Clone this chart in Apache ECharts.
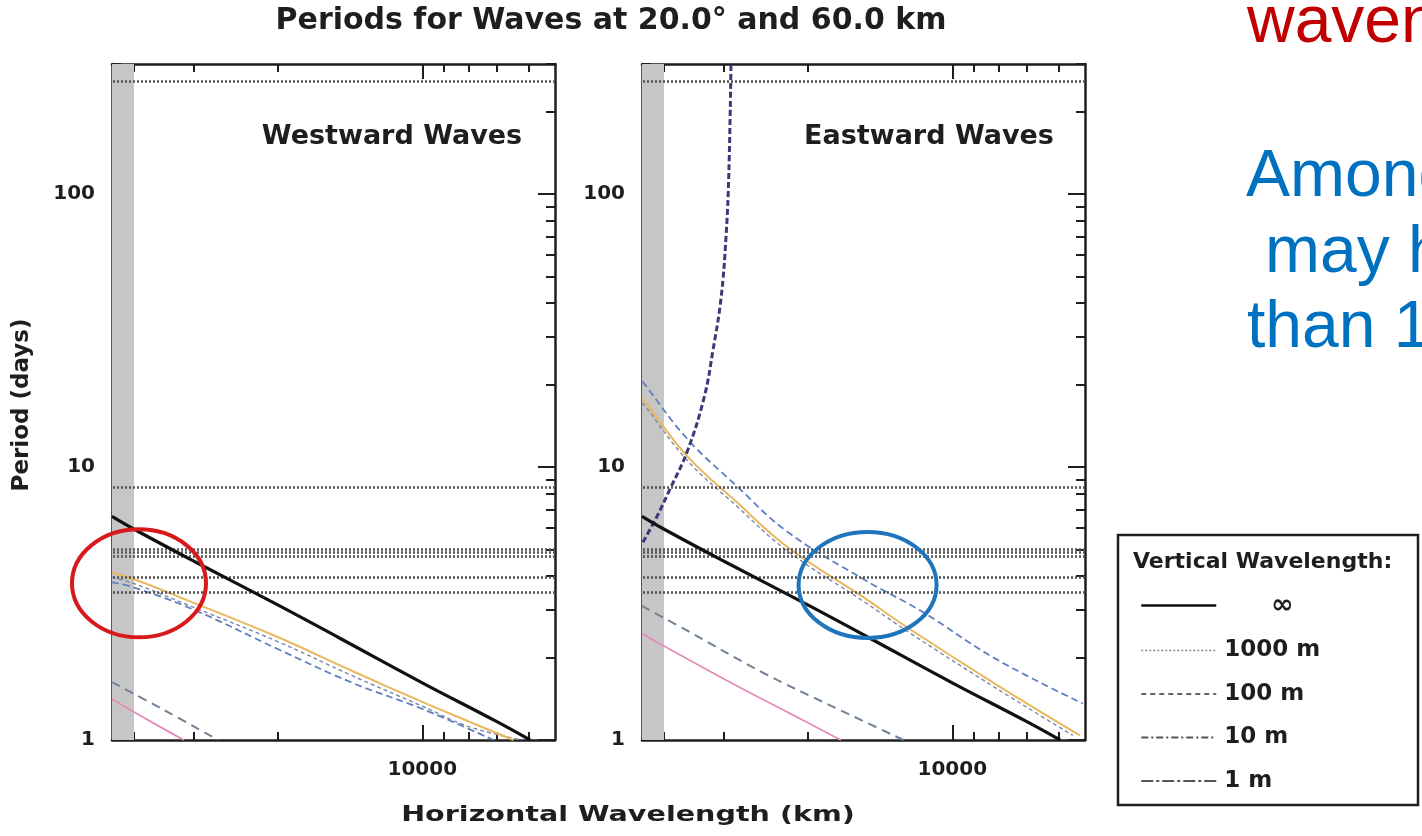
<!DOCTYPE html>
<html>
<head>
<meta charset="utf-8">
<script src="https://cdn.jsdelivr.net/npm/echarts@6/dist/echarts.min.js"></script>
<style>
html, body { margin: 0; padding: 0; background: #ffffff; }
#chart { width: 1422px; height: 836px; }
</style>
</head>
<body>
<div id="chart"></div>
<script>
// Axis ranges and tick values (wavelength in km, period in days)
const wavelengthRange = [5280, 44500];
const periodRange = [1, 300];
const wavelengthMajorTicks = [10000];
const wavelengthMinorTicks = [6000, 7000, 8000, 9000, 20000, 30000, 40000];
const periodMajorTicks = [1, 10, 100];
const periodMinorTicks = [2, 3, 4, 5, 6, 7, 8, 9, 20, 30, 40, 50, 60, 70, 80, 90, 200, 300];

// Wavelengths longer than the equatorial circumference are shaded
const circumferenceLimit = 40030;

// Fixed periods drawn as dotted horizontal lines in both panels
const referencePeriods = [260, 8.44, 5.02, 4.87, 4.73, 3.94, 3.47];

// Westward waves: [horizontal wavelength, period]
const westInfinite = [[44500, 6.6], [40000, 5.92], [30000, 4.52], [20000, 3.12], [15000, 2.38], [10000, 1.62], [7000, 1.17], [5950, 1.0]];
const westOrange = [[44500, 4.1], [40000, 3.88], [30000, 3.18], [20000, 2.38], [14000, 1.79], [10000, 1.38], [8000, 1.17], [6450, 1.0]];
const westThinDash = [[44500, 3.95], [40000, 3.74], [30000, 3.06], [20000, 2.29], [14000, 1.72], [10000, 1.33], [8000, 1.12], [6200, 1.0]];
const westBlue = [[44500, 3.78], [40000, 3.62], [30000, 3.0], [20000, 2.15], [14000, 1.62], [10000, 1.3], [7100, 1.0]];
const westGray = [[44500, 1.63], [35000, 1.3], [26700, 1.0]];
const westPink = [[44500, 1.41], [37000, 1.17], [31500, 1.0]];

// Eastward waves: [horizontal wavelength, period]
const eastInfinite = [[44500, 6.6], [40000, 5.92], [30000, 4.52], [20000, 3.12], [15000, 2.38], [10000, 1.62], [7000, 1.17], [5950, 1.0]];
const eastCritical = [[44300, 5.3], [41400, 6.6], [38900, 8.3], [35800, 11.4], [33000, 18], [31600, 27], [30400, 42], [29700, 70], [29300, 120], [29000, 300]];
const eastBlue = [[44500, 20.6], [44030, 20.2], [35810, 12.7], [28180, 8.51], [22180, 5.82], [15320, 3.88], [11660, 2.98], [8060, 1.97], [5334, 1.36]];
const eastOrange = [[44500, 17.8], [44030, 17.5], [35810, 10.97], [28180, 7.43], [22180, 5.12], [15320, 3.33], [12230, 2.54], [8060, 1.59], [5412, 1.04]];
const eastThinDash = [[44500, 17.2], [44030, 16.9], [35810, 10.6], [28180, 7.18], [22180, 4.95], [15320, 3.22], [12230, 2.46], [8060, 1.54], [5600, 1.04]];
const eastGray = [[44500, 3.1], [35000, 2.46], [24800, 1.76], [18000, 1.34], [12650, 1.0]];
const eastPink = [[44500, 2.45], [29000, 1.62], [22000, 1.26], [17100, 1.0]];

// Legend entries (vertical wavelength)
const legendNames = ['∞', '1000 m', '100 m', '10 m', '1 m'];

const FONT = 'DejaVu Sans';
const INK = '#1e1e1e';

const grids = [
  { left: 112, top: 64, width: 443, height: 676 },
  { left: 642, top: 64, width: 443, height: 676 }
];

function xAxes(gridIndex) {
  const base = {
    type: 'log', logBase: 10, inverse: true, gridIndex,
    min: wavelengthRange[0], max: wavelengthRange[1],
    splitLine: { show: false }, minorTick: { show: false }
  };
  return [
    Object.assign({}, base, {
      position: 'bottom',
      axisLine: { show: true, lineStyle: { color: INK, width: 2.5 } },
      axisTick: { show: true, inside: true, length: 15, customValues: wavelengthMajorTicks, lineStyle: { color: INK, width: 2 } },
      axisLabel: { show: true, customValues: wavelengthMajorTicks, margin: 20, color: INK, fontFamily: FONT, fontWeight: 'bold', fontSize: 20, formatter: v => String(Math.round(v)) }
    }),
    Object.assign({}, base, {
      position: 'bottom',
      axisLine: { show: false },
      axisTick: { show: true, inside: true, length: 8, customValues: wavelengthMinorTicks, lineStyle: { color: INK, width: 2 } },
      axisLabel: { show: false }
    }),
    Object.assign({}, base, {
      position: 'top',
      axisLine: { show: true, lineStyle: { color: INK, width: 2.5 } },
      axisTick: { show: true, inside: true, length: 15, customValues: wavelengthMajorTicks, lineStyle: { color: INK, width: 2 } },
      axisLabel: { show: false }
    }),
    Object.assign({}, base, {
      position: 'top',
      axisLine: { show: false },
      axisTick: { show: true, inside: true, length: 8, customValues: wavelengthMinorTicks, lineStyle: { color: INK, width: 2 } },
      axisLabel: { show: false }
    })
  ];
}

function yAxes(gridIndex) {
  const base = {
    type: 'log', logBase: 10, gridIndex,
    min: periodRange[0], max: periodRange[1],
    splitLine: { show: false }, minorTick: { show: false }
  };
  return [
    Object.assign({}, base, {
      position: 'left',
      axisLine: { show: true, lineStyle: { color: INK, width: 2.5 } },
      axisTick: { show: true, inside: true, length: 17, customValues: periodMajorTicks, lineStyle: { color: INK, width: 2 } },
      axisLabel: { show: true, customValues: periodMajorTicks, margin: 17, color: INK, fontFamily: FONT, fontWeight: 'bold', fontSize: 20, formatter: v => String(Math.round(v)) }
    }),
    Object.assign({}, base, {
      position: 'left',
      axisLine: { show: false },
      axisTick: { show: true, inside: true, length: 9, customValues: periodMinorTicks, lineStyle: { color: INK, width: 2 } },
      axisLabel: { show: false }
    }),
    Object.assign({}, base, {
      position: 'right',
      axisLine: { show: true, lineStyle: { color: INK, width: 2.5 } },
      axisTick: { show: true, inside: true, length: 17, customValues: periodMajorTicks, lineStyle: { color: INK, width: 2 } },
      axisLabel: { show: false }
    }),
    Object.assign({}, base, {
      position: 'right',
      axisLine: { show: false },
      axisTick: { show: true, inside: true, length: 9, customValues: periodMinorTicks, lineStyle: { color: INK, width: 2 } },
      axisLabel: { show: false }
    })
  ];
}

function curve(name, data, axisIndex, color, width, type, z) {
  return {
    name, type: 'line', data, xAxisIndex: axisIndex, yAxisIndex: axisIndex,
    smooth: 0.4, showSymbol: false, symbol: 'none', clip: true, silent: true,
    lineStyle: { color, width, type }, z: z || 3
  };
}

function panelDecor(axisIndex) {
  // shaded band and dotted reference periods
  return {
    name: 'reference', type: 'line', data: [], xAxisIndex: axisIndex, yAxisIndex: axisIndex,
    silent: true, z: 1,
    markArea: {
      silent: true,
      itemStyle: { color: '#c6c6c6' },
      data: [[{ xAxis: circumferenceLimit }, { xAxis: wavelengthRange[1] }]]
    },
    markLine: {
      silent: true, symbol: 'none', label: { show: false },
      lineStyle: { color: '#555555', width: 2.6, type: [2, 2] },
      data: referencePeriods.map(p => ({ yAxis: p }))
    }
  };
}

const series = [
  panelDecor(0),
  curve('1 m', westPink, 0, '#e58bbb', 1.8, 'solid'),
  curve('10 m', westGray, 0, '#6f8296', 2, [9, 6]),
  curve('100 m', westBlue, 0, '#5f7fc0', 1.8, [7, 4]),
  curve('1000 m', westThinDash, 0, '#7d88a8', 1.4, [4, 3]),
  curve('1000 m', westOrange, 0, '#e9b75c', 2, 'solid'),
  curve('∞', westInfinite, 0, '#111111', 3.2, 'solid', 5),

  panelDecor(4),
  curve('1 m', eastPink, 4, '#e58bbb', 1.8, 'solid'),
  curve('10 m', eastGray, 4, '#6f8296', 2, [9, 6]),
  curve('100 m', eastBlue, 4, '#5f7fc0', 1.8, [7, 4]),
  curve('1000 m', eastThinDash, 4, '#7d88a8', 1.4, [4, 3]),
  curve('1000 m', eastOrange, 4, '#e9b75c', 2, 'solid'),
  curve('critical', eastCritical, 4, '#3a3a78', 3, [6, 3], 4),
  curve('∞', eastInfinite, 4, '#111111', 3.2, 'solid', 5)
];

const legendStyles = {
  '∞': { color: '#111111', width: 2.5, type: 'solid' },
  '1000 m': { color: '#8a8a8a', width: 1.5, type: [2, 2] },
  '100 m': { color: '#333333', width: 1.5, type: [5, 4] },
  '10 m': { color: '#555555', width: 1.8, type: [7, 3, 2, 3] },
  '1 m': { color: '#555555', width: 1.8, type: [12, 3, 3, 3] }
};

const option = {
  backgroundColor: '#ffffff',
  animation: false,
  grid: grids,
  xAxis: xAxes(0).concat(xAxes(1)),
  yAxis: yAxes(0).concat(yAxes(1)),
  legend: {
    orient: 'vertical', left: 1135, top: 587,
    itemWidth: 75, itemHeight: 14, itemGap: 19.5,
    selectedMode: false,
    textStyle: { color: INK, fontFamily: FONT, fontWeight: 'bold', fontSize: 23, lineHeight: 24 },
    data: legendNames.map(n => ({
      name: n,
      lineStyle: legendStyles[n],
      itemStyle: { opacity: 0 },
      textStyle: n === '∞'
        ? { padding: [0, 0, 0, 50], fontSize: 27 }
        : { padding: [0, 0, 0, 3] }
    }))
  },
  series
};

const chart = echarts.init(document.getElementById('chart'), null, { renderer: 'canvas' });
chart.setOption(option);

// Annotations and text placed after the axes exist
const westMark = chart.convertToPixel({ xAxisIndex: 0, yAxisIndex: 0 }, [39080, 3.75]);
const eastMark = chart.convertToPixel({ xAxisIndex: 4, yAxisIndex: 4 }, [15030, 3.7]);

const boldText = (x, y, text, size, align, extra) => Object.assign({
  type: 'text', x, y, silent: true,
  style: { text, fill: INK, font: `bold ${size}px "${FONT}"`, textAlign: align || 'left', textVerticalAlign: 'middle' }
}, extra || {});

const slideText = (x, y, text, color) => ({
  type: 'text', x, y, silent: true,
  style: { text, fill: color, font: '66px "Liberation Sans"', textVerticalAlign: 'bottom' }
});

chart.setOption({
  graphic: [
    boldText(611, 21, 'Periods for Waves at 20.0° and 60.0 km', 30, 'center'),
    boldText(392, 137, 'Westward Waves', 27, 'center'),
    boldText(929, 137, 'Eastward Waves', 27, 'center'),
    boldText(628, 815, 'Horizontal Wavelength (km)', 22, 'center', { scaleX: 1.3 }),
    boldText(22, 405, 'Period (days)', 23, 'center', { rotation: Math.PI / 2 }),
    {
      type: 'ellipse', silent: true, z: 20,
      shape: { cx: westMark[0], cy: westMark[1], rx: 67, ry: 54 },
      style: { fill: 'none', stroke: '#d7191c', lineWidth: 4 }
    },
    {
      type: 'ellipse', silent: true, z: 20,
      shape: { cx: eastMark[0], cy: eastMark[1], rx: 69, ry: 53 },
      style: { fill: 'none', stroke: '#1f74bb', lineWidth: 4 }
    },
    {
      type: 'rect', silent: true, z: 0,
      shape: { x: 1118, y: 535, width: 300, height: 270 },
      style: { fill: '#ffffff', stroke: INK, lineWidth: 2.5 }
    },
    boldText(1133, 562, 'Vertical Wavelength:', 22, 'left'),
    slideText(1247, 57, 'wavenumber', '#c00000'),
    slideText(1246, 211, 'Among', '#0070c0'),
    slideText(1265, 287, 'may have', '#0070c0'),
    slideText(1247, 362, 'than 10', '#0070c0')
  ]
});
</script>
</body>
</html>
